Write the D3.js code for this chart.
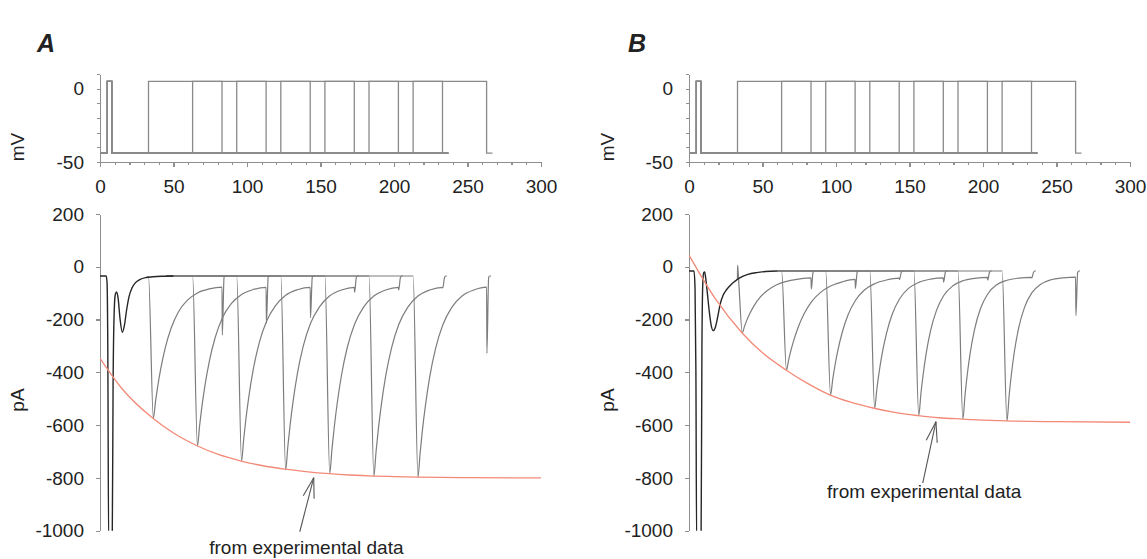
<!DOCTYPE html>
<meta charset="utf-8">
<html>
<style>
  body, html{ margin: 0; background: #fff; }
  text{ font-family: "Liberation Sans", Arial, sans-serif; fill: #222; }
  .axis path, .axis line{ stroke: #8f8f8f; stroke-width: 1.2; fill: none; shape-rendering: crispEdges; }
  .axis text{ font-size: 19px; fill: #222; }
  .proto{ stroke: #8a8a8a; stroke-width: 1.3; fill: none; }
  .sweep{ stroke: #7d7d7d; stroke-width: 1.2; fill: none; }
  .pre{ stroke: #262626; stroke-width: 1.4; fill: none; }
  .env{ stroke: #f38a78; stroke-width: 1.3; fill: none; }
  .note line{ stroke: #555; stroke-width: 1.1; }
</style>
<body>
<svg></svg>
<script src="https://cdn.jsdelivr.net/npm/d3@7/dist/d3.min.js"></script>
<script>
// protocol (ms, mV)
var sweepStarts = [33, 63, 93, 123, 153, 183, 213]
  , sweepEnds = [83, 113, 143, 173, 203, 233, 263]
  , sweepStops = [237, 237, 237, 237, 237, 237, 267]
  , prepulse = [5, 8]
  , vHold = -44, vStep = 5

// tick labels
var xTickLabels = [0, 50, 100, 150, 200, 250, 300]
  , mvTickLabels = [0, -50]
  , paTickLabels = [200, 0, -200, -400, -600, -800, -1000]

// current traces (ms after peak, pA)
var recT = [0, 1.5, 3, 5, 8, 12, 17, 23, 30, 38, 46.7]
  , peakDelay = 3.3

// panel A
var aBase = -35, aSettle = 45
  , aFirstOnset = [[31, -41], [33, -38]]
  , aPre = [[0,-35],[4.2,-35],[4.8,-60],[5.3,-300],[5.9,-1050],[8.3,-1050],[8.9,-450],[9.6,-180],[10.4,-105],[11.3,-95],[12.3,-118],[13.6,-195],[15.2,-248],[16.6,-222],[18.2,-160],[19.8,-112],[21.8,-80],[24,-61],[27,-49],[31,-41],[36,-38],[42,-36],[50,-35]]
  , aRecovery = [
      [-574, -509, -452, -387, -309, -234, -171, -127, -99, -84, -77],
      [-678, -600, -531, -453, -360, -269, -193, -140, -105, -86, -78],
      [-736, -650, -575, -490, -388, -288, -206, -148, -108, -87, -78],
      [-770, -680, -601, -512, -404, -300, -213, -152, -110, -88, -78],
      [-783, -691, -611, -520, -410, -304, -216, -153, -111, -88, -78],
      [-793, -700, -618, -526, -415, -308, -218, -154, -111, -88, -78],
      [-797, -704, -621, -529, -417, -309, -219, -154, -111, -88, -77]]
  , aTail = [-259, -214, -193, -97, -88, -80, -328]
  , aEnvelope = [[0,-347],[15,-462],[36,-574],[50,-630],[66,-678],[80,-710],[96,-736],[110,-753],[126,-767],[140,-776],[156,-784],[170,-789],[186,-793],[200,-795],[216,-797],[250,-799],[300,-800]]
  , aNote = {text: [140.4, -1088], from: [135.9, -1004], to: [145.4, -799]}

// panel B
var bBase = -16, bSettle = 60
  , bFirstOnset = [[31, -56], [32.9, -46], [33.1, 5], [33.5, -25]]
  , bPre = [[0,-16],[3.4,-16],[4.1,-80],[4.7,-400],[5.2,-1050],[8.2,-1050],[8.8,-300],[9.4,-60],[10,-22],[10.6,-20],[11.3,-40],[12.4,-95],[13.8,-170],[15.2,-225],[16.5,-242],[18,-228],[19.6,-188],[21.2,-142],[23.2,-108],[25.5,-87],[28,-71],[31,-56],[34.5,-42],[40,-29],[46,-22],[52,-18],[60,-16]]
  , bRecovery = [
      [-250, -225, -203, -178, -147, -116, -90, -69, -55, -47, -42],
      [-391, -353, -318, -278, -229, -178, -133, -98, -73, -57, -48],
      [-486, -426, -374, -316, -247, -181, -127, -88, -64, -50, -43],
      [-536, -463, -401, -332, -253, -179, -121, -82, -59, -47, -42],
      [-564, -479, -408, -330, -243, -166, -109, -73, -53, -44, -40],
      [-577, -485, -408, -326, -236, -158, -102, -68, -51, -43, -40],
      [-584, -487, -408, -323, -231, -153, -98, -66, -49, -42, -39]]
  , bTail = [-85, -82, -48, -58, -50, -42, -185]
  , bEnvelope = [[0,44],[18,-122],[36,-250],[50,-326],[66,-391],[80,-440],[96,-486],[110,-513],[126,-536],[140,-552],[156,-564],[170,-572],[186,-577],[200,-581],[216,-584],[250,-587],[300,-589]]
  , bNote = {text: [160, -876], from: [159, -820], to: [168, -587]}

var w = 1147, h = 559
  , svg = d3.select('svg').attr('width', w).attr('height', h)
  , translate = function(x, y){ return 'translate(' + x + ',' + y + ')' }
  , plain = function(d){ return String(d) }

var panels = [
  {label: 'A', x0: 100, letterX: 37, titleX: 17, base: aBase, settle: aSettle, onset: aFirstOnset,
   pre: aPre, rec: aRecovery, tail: aTail, env: aEnvelope, note: aNote},
  {label: 'B', x0: 689, letterX: 628, titleX: 607, base: bBase, settle: bSettle, onset: bFirstOnset,
   pre: bPre, rec: bRecovery, tail: bTail, env: bEnvelope, note: bNote}
]

panels.forEach(function(p, pi){
  var x = d3.scaleLinear().domain([0, 300]).range([p.x0, p.x0 + 441])
    , yv = d3.scaleLinear().domain([-50, 10]).range([162, 74])
    , yi = d3.scaleLinear().domain([-1000, 200]).range([530.7, 214])
    , g = svg.append('g')

  g.append('text').text(p.label)
    .attr('x', p.letterX).attr('y', 52)
    .style('font-size', '25px').style('font-weight', 'bold').style('font-style', 'italic')

  // voltage protocol
  var xAxis = g.append('g').attr('class', 'axis').attr('transform', translate(0, yv(-50)))
    .call(d3.axisBottom(x).tickValues(d3.range(0, 301, 10)).tickSizeOuter(0)
      .tickFormat(function(d){ return xTickLabels.indexOf(d) >= 0 ? plain(d) : '' }))
  xAxis.selectAll('.tick line').attr('y2', function(d){ return d % 50 ? 3 : 5 })
  xAxis.selectAll('.tick text').attr('y', 18)

  g.append('g').attr('class', 'axis').attr('transform', translate(p.x0, 0))
    .call(d3.axisLeft(yv).tickValues(d3.range(-50, 11, 10)).tickSize(3).tickPadding(13).tickSizeOuter(0)
      .tickFormat(function(d){ return mvTickLabels.indexOf(d) >= 0 ? plain(d) : '' }))

  g.append('text').text('mV').style('font-size', '19px')
    .attr('text-anchor', 'middle')
    .attr('transform', translate(p.titleX + 7, 147) + ' rotate(-90)')

  var vline = d3.line().x(function(d){ return x(d[0]) }).y(function(d){ return yv(d[1]) })
  g.selectAll('.proto').data(sweepStarts).enter().append('path').attr('class', 'proto')
    .attr('d', function(ts, i){
      return vline([[0, vHold], [prepulse[0], vHold], [prepulse[0], vStep], [prepulse[1], vStep],
        [prepulse[1], vHold], [ts, vHold], [ts, vStep], [sweepEnds[i], vStep],
        [sweepEnds[i], vHold], [sweepStops[i], vHold]])
    })

  // currents
  g.append('g').attr('class', 'axis').attr('transform', translate(p.x0, 0))
    .call(d3.axisLeft(yi).tickValues(paTickLabels).tickSize(4).tickPadding(12).tickSizeOuter(0)
      .tickFormat(plain))

  g.append('text').text('pA').style('font-size', '19px')
    .attr('text-anchor', 'middle')
    .attr('transform', translate(p.titleX + 7, 400) + ' rotate(-90)')

  var clipId = 'clip' + pi
  svg.append('clipPath').attr('id', clipId).append('rect')
    .attr('x', p.x0).attr('y', yi(200)).attr('width', 460).attr('height', yi(-1000) - yi(200))

  var iline = d3.line().curve(d3.curveMonotoneX)
    .x(function(d){ return x(d[0]) }).y(function(d){ return yi(d[1]) })
  var traces = g.append('g').attr('clip-path', 'url(#' + clipId + ')')

  traces.selectAll('.sweep').data(sweepStarts).enter().append('path').attr('class', 'sweep')
    .attr('d', function(ts, i){
      var pts = i === 0 ? p.onset.slice() : [[p.settle, p.base], [ts, p.base]]
        , te = sweepEnds[i]
      recT.forEach(function(dt, k){ pts.push([ts + peakDelay + dt, p.rec[i][k]]) })
      pts.push([te + 0.2, p.tail[i]], [te + 1.4, p.base - 5], [te + 2.2, p.base], [te + 3, p.base])
      return iline(pts)
    })

  traces.append('path').attr('class', 'pre').attr('d', iline(p.pre))
  traces.append('path').attr('class', 'env').attr('d', iline(p.env))

  // annotation
  var note = g.append('g').attr('class', 'note')
    , fx = x(p.note.from[0]), fy = yi(p.note.from[1])
    , tx = x(p.note.to[0]), ty = yi(p.note.to[1])
    , ang = Math.atan2(fy - ty, fx - tx)
  note.append('line').attr('x1', fx).attr('y1', fy).attr('x2', tx).attr('y2', ty)
  ;[-0.27, 0.27].forEach(function(da){
    note.append('line').attr('x1', tx).attr('y1', ty)
      .attr('x2', tx + 21 * Math.cos(ang + da)).attr('y2', ty + 21 * Math.sin(ang + da))
  })
  note.append('text').text('from experimental data')
    .attr('x', x(p.note.text[0])).attr('y', yi(p.note.text[1]))
    .attr('text-anchor', 'middle').style('font-size', '19px')
})
</script>
</body>
</html>
